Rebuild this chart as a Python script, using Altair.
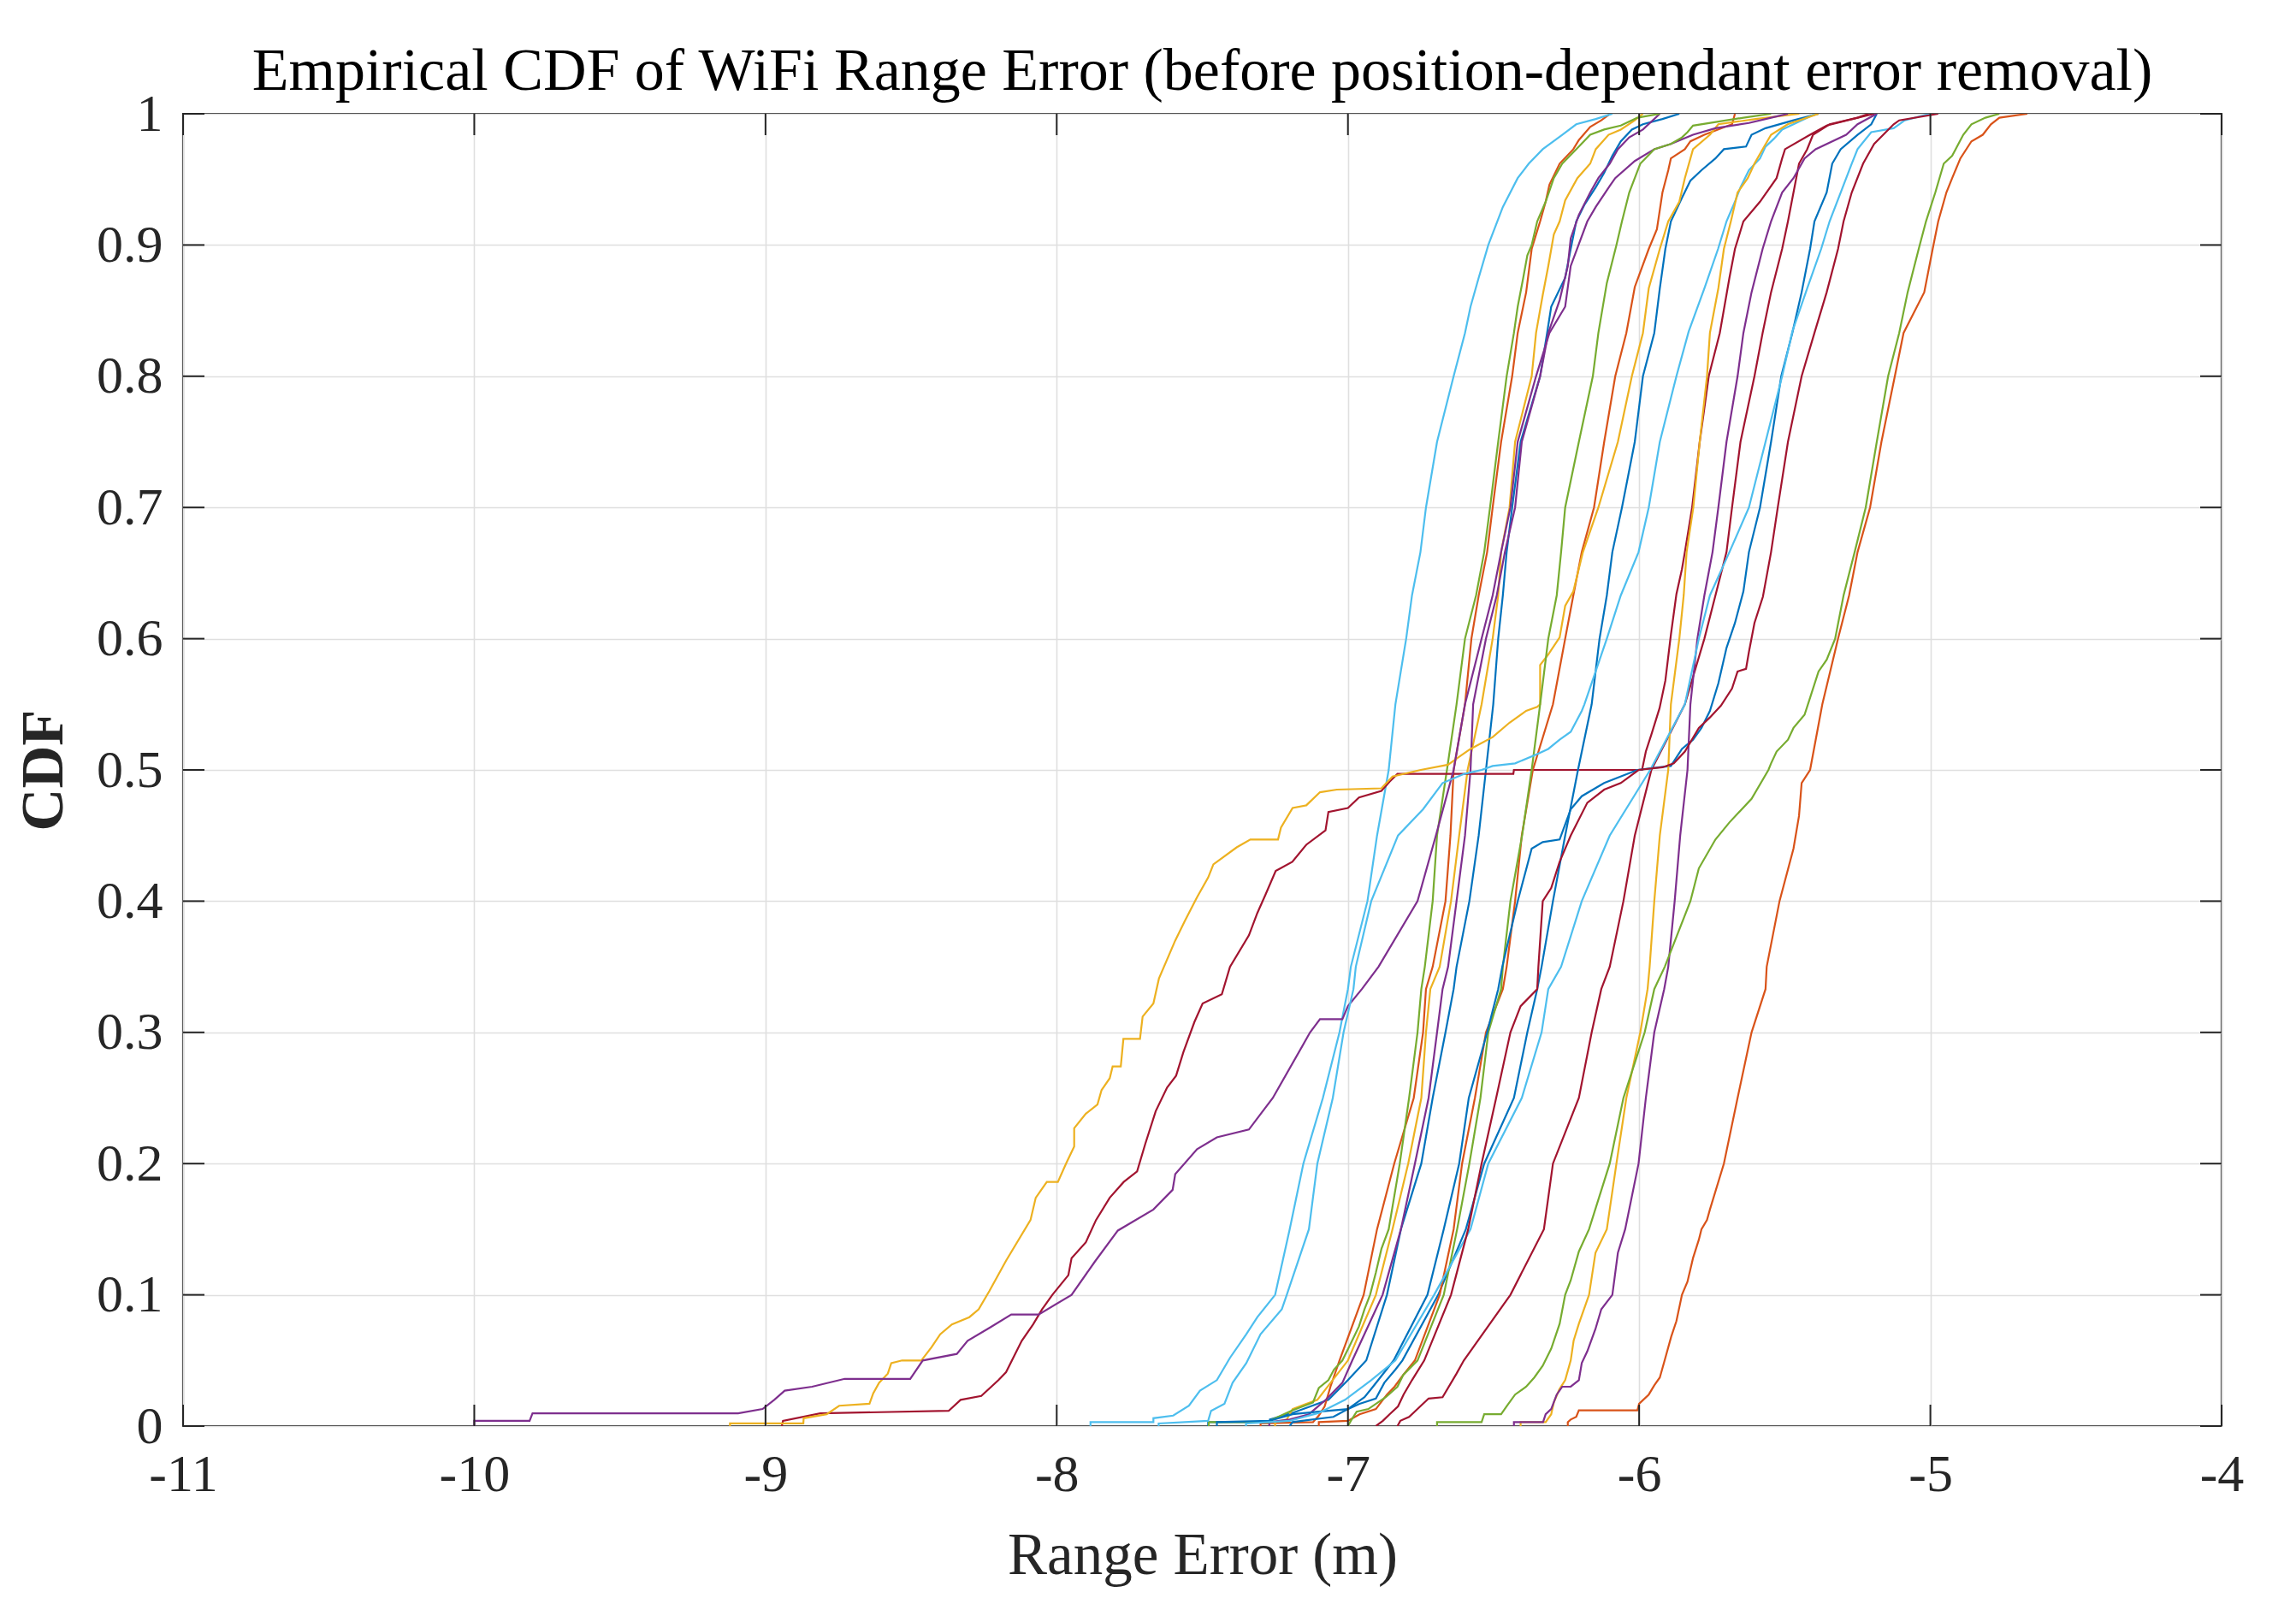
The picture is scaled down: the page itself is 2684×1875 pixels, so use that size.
import altair as alt
import pandas as pd

TITLE = "Empirical CDF of WiFi Range Error (before position-dependant error removal)"
X_TITLE = "Range Error (m)"
Y_TITLE = "CDF"
X_TICKS = [-11, -10, -9, -8, -7, -6, -5, -4]
Y_TICKS = [0, 0.1, 0.2, 0.3, 0.4, 0.5, 0.6, 0.7, 0.8, 0.9, 1.0]

BLUE, ORANGE, YELLOW, PURPLE, GREEN, LBLUE, RED = (
    "#0072BD", "#D95319", "#EDB120", "#7E2F8E", "#77AC30", "#4DBEEE", "#A2142F")

# (range error, cumulative fraction) points
B1 = [(-7.48,0),(-7.48,0.003),(-7.268,0.003),(-7.268,0.005),(-7.191,0.01),(-7.067,0.02),(-7.0,0.035),(-6.937,0.05),(-6.866,0.1),(-6.818,0.15),(-6.748,0.2),(-6.709,0.25),(-6.665,0.3),(-6.637,0.333),(-6.627,0.35),(-6.583,0.4),(-6.551,0.45),(-6.526,0.5),(-6.501,0.55),(-6.484,0.6),(-6.468,0.633),(-6.455,0.666),(-6.436,0.7),(-6.407,0.75),(-6.34,0.8),(-6.316,0.833),(-6.302,0.853),(-6.254,0.875),(-6.235,0.897),(-6.216,0.918),(-6.187,0.931),(-6.149,0.944),(-6.12,0.955),(-6.092,0.968),(-6.063,0.979),(-6.025,0.988),(-5.987,0.992),(-5.92,0.996),(-5.862,1.0)]
O1 = [(-7.3,0),(-7.3,0.002),(-7.12,0.003),(-7.1,0.008),(-7.08,0.015),(-7.06,0.03),(-7.029,0.05),(-6.946,0.1),(-6.9,0.15),(-6.841,0.2),(-6.774,0.25),(-6.742,0.3),(-6.732,0.333),(-6.709,0.35),(-6.665,0.4),(-6.648,0.45),(-6.637,0.5),(-6.598,0.55),(-6.576,0.6),(-6.551,0.633),(-6.522,0.666),(-6.503,0.7),(-6.474,0.75),(-6.436,0.8),(-6.417,0.833),(-6.388,0.864),(-6.369,0.897),(-6.34,0.918),(-6.321,0.933),(-6.308,0.946),(-6.273,0.962),(-6.226,0.973),(-6.207,0.98),(-6.168,0.99),(-6.13,0.995),(-6.1,1.0)]
Y1 = [(-7.25,0),(-7.25,0.003),(-7.21,0.005),(-7.19,0.013),(-7.105,0.02),(-7.0,0.05),(-6.904,0.1),(-6.847,0.15),(-6.793,0.2),(-6.748,0.25),(-6.732,0.3),(-6.717,0.333),(-6.685,0.35),(-6.646,0.4),(-6.618,0.45),(-6.589,0.5),(-6.541,0.55),(-6.503,0.6),(-6.484,0.633),(-6.474,0.666),(-6.445,0.7),(-6.426,0.75),(-6.369,0.8),(-6.354,0.833),(-6.331,0.862),(-6.312,0.884),(-6.293,0.908),(-6.273,0.918),(-6.254,0.934),(-6.212,0.951),(-6.168,0.962),(-6.149,0.973),(-6.105,0.984),(-6.063,0.988),(-6.015,0.995),(-5.987,1.0)]
P1 = [(-7.27,0),(-7.27,0.003),(-7.2,0.005),(-7.134,0.009),(-7.076,0.02),(-7.019,0.033),(-6.985,0.05),(-6.881,0.1),(-6.818,0.15),(-6.77,0.2),(-6.723,0.25),(-6.694,0.3),(-6.675,0.333),(-6.656,0.35),(-6.627,0.4),(-6.598,0.45),(-6.579,0.5),(-6.57,0.55),(-6.526,0.6),(-6.489,0.633),(-6.461,0.666),(-6.426,0.7),(-6.403,0.75),(-6.34,0.8),(-6.312,0.833),(-6.273,0.858),(-6.245,0.884),(-6.235,0.905),(-6.207,0.923),(-6.168,0.94),(-6.14,0.951),(-6.101,0.962),(-6.073,0.973),(-6.034,0.982),(-5.987,0.988),(-5.929,1.0)]
G1 = [(-7.478,0),(-7.478,0.003),(-7.268,0.003),(-7.26,0.005),(-7.19,0.012),(-7.12,0.018),(-7.1,0.029),(-7.067,0.035),(-7.048,0.043),(-7.019,0.05),(-6.99,0.063),(-6.962,0.076),(-6.943,0.089),(-6.924,0.1),(-6.904,0.117),(-6.885,0.135),(-6.86,0.15),(-6.822,0.2),(-6.79,0.25),(-6.761,0.3),(-6.748,0.333),(-6.736,0.35),(-6.709,0.4),(-6.694,0.45),(-6.66,0.5),(-6.627,0.55),(-6.598,0.6),(-6.56,0.633),(-6.532,0.666),(-6.512,0.7),(-6.484,0.75),(-6.455,0.8),(-6.43,0.833),(-6.417,0.853),(-6.398,0.875),(-6.384,0.892),(-6.369,0.9),(-6.35,0.918),(-6.321,0.933),(-6.293,0.951),(-6.264,0.962),(-6.216,0.973),(-6.168,0.984),(-6.12,0.988),(-6.063,0.991),(-6.006,0.997),(-5.929,1.0)]
LB1 = [(-7.884,0),(-7.884,0.003),(-7.668,0.003),(-7.668,0.006),(-7.6,0.008),(-7.546,0.0155),(-7.508,0.027),(-7.45,0.035),(-7.405,0.052),(-7.349,0.07),(-7.311,0.083),(-7.25,0.1),(-7.2,0.15),(-7.153,0.2),(-7.086,0.25),(-7.029,0.3),(-7.0,0.333),(-6.99,0.35),(-6.933,0.4),(-6.9,0.45),(-6.86,0.5),(-6.837,0.55),(-6.8,0.6),(-6.78,0.633),(-6.751,0.666),(-6.732,0.7),(-6.694,0.75),(-6.637,0.8),(-6.598,0.833),(-6.579,0.853),(-6.551,0.875),(-6.518,0.9),(-6.468,0.929),(-6.417,0.951),(-6.379,0.962),(-6.331,0.973),(-6.264,0.984),(-6.216,0.992),(-6.149,0.996),(-6.092,1.0)]
R1 = [(-8.944,0),(-8.94,0.004),(-8.812,0.0097),(-8.371,0.0116),(-8.33,0.02),(-8.259,0.023),(-8.2,0.035),(-8.174,0.041),(-8.12,0.065),(-8.081,0.0775),(-8.05,0.089),(-8.015,0.1),(-7.96,0.115),(-7.949,0.128),(-7.9,0.14),(-7.865,0.157),(-7.818,0.174),(-7.77,0.186),(-7.724,0.194),(-7.696,0.215),(-7.66,0.24),(-7.621,0.258),(-7.59,0.267),(-7.565,0.285),(-7.527,0.308),(-7.499,0.322),(-7.433,0.329),(-7.405,0.35),(-7.34,0.374),(-7.311,0.391),(-7.283,0.405),(-7.248,0.423),(-7.191,0.43),(-7.143,0.443),(-7.077,0.454),(-7.067,0.468),(-7.0,0.471),(-6.962,0.479),(-6.885,0.484),(-6.857,0.491),(-6.83,0.497),(-6.432,0.497),(-6.43,0.5),(-5.99,0.5),(-5.977,0.514),(-5.958,0.527),(-5.93,0.547),(-5.91,0.568),(-5.891,0.603),(-5.872,0.634),(-5.853,0.653),(-5.843,0.666),(-5.818,0.7),(-5.792,0.75),(-5.761,0.8),(-5.723,0.833),(-5.69,0.875),(-5.671,0.897),(-5.642,0.918),(-5.585,0.933),(-5.528,0.951),(-5.509,0.966),(-5.499,0.973),(-5.413,0.984),(-5.356,0.991),(-5.25,0.997),(-5.193,1.0)]
B2 = [(-7.45,0),(-7.45,0.003),(-7.27,0.004),(-7.19,0.009),(-7.1,0.011),(-7.0,0.013),(-6.96,0.017),(-6.904,0.021),(-6.875,0.033),(-6.837,0.043),(-6.813,0.05),(-6.69,0.1),(-6.595,0.15),(-6.532,0.2),(-6.43,0.25),(-6.384,0.3),(-6.35,0.333),(-6.335,0.35),(-6.296,0.4),(-6.254,0.45),(-6.21,0.5),(-6.163,0.55),(-6.136,0.6),(-6.111,0.633),(-6.092,0.666),(-6.059,0.7),(-6.015,0.75),(-5.987,0.8),(-5.948,0.833),(-5.929,0.867),(-5.91,0.897),(-5.891,0.918),(-5.853,0.936),(-5.824,0.949),(-5.786,0.957),(-5.738,0.966),(-5.709,0.973),(-5.633,0.975),(-5.614,0.984),(-5.566,0.989),(-5.47,0.995),(-5.384,1.0)]
O2 = [(-7.1,0),(-7.1,0.003),(-7.0,0.004),(-6.96,0.009),(-6.904,0.013),(-6.866,0.024),(-6.84,0.03),(-6.81,0.039),(-6.77,0.05),(-6.685,0.1),(-6.637,0.15),(-6.608,0.2),(-6.564,0.25),(-6.526,0.3),(-6.468,0.333),(-6.455,0.35),(-6.426,0.4),(-6.403,0.45),(-6.365,0.5),(-6.296,0.55),(-6.254,0.6),(-6.226,0.633),(-6.197,0.666),(-6.155,0.7),(-6.12,0.75),(-6.082,0.8),(-6.044,0.833),(-6.015,0.868),(-5.967,0.897),(-5.939,0.912),(-5.92,0.94),(-5.9,0.957),(-5.891,0.966),(-5.843,0.973),(-5.824,0.979),(-5.776,0.984),(-5.681,0.992),(-5.671,1.0)]
Y2 = [(-9.122,0),(-9.122,0.002),(-8.87,0.002),(-8.869,0.006),(-8.79,0.009),(-8.747,0.0155),(-8.643,0.017),(-8.63,0.025),(-8.61,0.033),(-8.58,0.04),(-8.568,0.048),(-8.531,0.05),(-8.465,0.05),(-8.43,0.06),(-8.4,0.07),(-8.36,0.0775),(-8.3,0.083),(-8.268,0.089),(-8.231,0.103),(-8.174,0.126),(-8.09,0.157),(-8.072,0.174),(-8.034,0.186),(-7.996,0.186),(-7.968,0.2),(-7.94,0.213),(-7.94,0.227),(-7.9,0.238),(-7.86,0.245),(-7.846,0.256),(-7.818,0.265),(-7.808,0.274),(-7.78,0.274),(-7.771,0.295),(-7.714,0.295),(-7.705,0.312),(-7.668,0.322),(-7.649,0.341),(-7.593,0.37),(-7.56,0.385),(-7.518,0.403),(-7.48,0.418),(-7.462,0.428),(-7.382,0.441),(-7.335,0.447),(-7.24,0.447),(-7.23,0.456),(-7.19,0.471),(-7.143,0.473),(-7.096,0.483),(-7.038,0.485),(-6.885,0.486),(-6.847,0.495),(-6.75,0.5),(-6.656,0.504),(-6.618,0.51),(-6.579,0.516),(-6.503,0.525),(-6.445,0.536),(-6.388,0.545),(-6.35,0.548),(-6.34,0.55),(-6.34,0.58),(-6.312,0.588),(-6.273,0.601),(-6.254,0.625),(-6.226,0.636),(-6.193,0.666),(-6.14,0.7),(-6.073,0.75),(-6.025,0.8),(-5.987,0.833),(-5.967,0.867),(-5.929,0.897),(-5.9,0.918),(-5.862,0.933),(-5.843,0.951),(-5.815,0.973),(-5.757,0.984),(-5.728,0.992),(-5.6,0.996),(-5.45,1.0)]
P2 = [(-10.0,0),(-10.0,0.004),(-9.81,0.004),(-9.8,0.0097),(-9.094,0.0097),(-9.01,0.013),(-8.97,0.02),(-8.934,0.027),(-8.84,0.03),(-8.728,0.036),(-8.503,0.036),(-8.46,0.05),(-8.343,0.055),(-8.306,0.065),(-8.23,0.075),(-8.156,0.085),(-8.062,0.085),(-7.949,0.1),(-7.87,0.125),(-7.79,0.149),(-7.668,0.165),(-7.602,0.18),(-7.593,0.192),(-7.518,0.211),(-7.45,0.22),(-7.34,0.226),(-7.258,0.25),(-7.13,0.3),(-7.096,0.31),(-7.019,0.31),(-7.0,0.32),(-6.952,0.333),(-6.895,0.35),(-6.761,0.4),(-6.698,0.45),(-6.637,0.5),(-6.598,0.55),(-6.541,0.6),(-6.503,0.633),(-6.474,0.666),(-6.442,0.7),(-6.417,0.75),(-6.354,0.8),(-6.308,0.833),(-6.254,0.853),(-6.235,0.884),(-6.178,0.918),(-6.149,0.929),(-6.101,0.945),(-6.082,0.951),(-6.015,0.964),(-5.948,0.973),(-5.891,0.977),(-5.815,0.984),(-5.738,0.989),(-5.623,0.993),(-5.547,0.997),(-5.489,1.0)]
G2 = [(-7.0,0),(-6.99,0.004),(-6.97,0.011),(-6.93,0.013),(-6.87,0.022),(-6.83,0.03),(-6.81,0.039),(-6.761,0.05),(-6.671,0.1),(-6.625,0.15),(-6.583,0.2),(-6.545,0.25),(-6.518,0.3),(-6.474,0.333),(-6.468,0.35),(-6.442,0.4),(-6.402,0.45),(-6.369,0.5),(-6.34,0.55),(-6.312,0.6),(-6.283,0.633),(-6.268,0.666),(-6.254,0.7),(-6.207,0.75),(-6.159,0.8),(-6.14,0.833),(-6.111,0.871),(-6.078,0.9),(-6.059,0.918),(-6.034,0.94),(-6.015,0.951),(-5.996,0.962),(-5.948,0.973),(-5.891,0.977),(-5.853,0.982),(-5.834,0.986),(-5.815,0.991),(-5.642,0.997),(-5.547,1.0)]
LB2 = [(-7.65,0),(-7.65,0.002),(-7.48,0.004),(-7.47,0.0116),(-7.424,0.017),(-7.396,0.033),(-7.349,0.048),(-7.3,0.07),(-7.227,0.089),(-7.21,0.1),(-7.134,0.15),(-7.105,0.2),(-7.052,0.25),(-7.015,0.3),(-6.981,0.333),(-6.973,0.35),(-6.92,0.4),(-6.828,0.45),(-6.742,0.47),(-6.675,0.49),(-6.6,0.497),(-6.541,0.5),(-6.503,0.503),(-6.426,0.505),(-6.35,0.512),(-6.312,0.516),(-6.273,0.523),(-6.235,0.529),(-6.197,0.545),(-6.188,0.55),(-6.111,0.6),(-6.063,0.633),(-6.002,0.666),(-5.967,0.7),(-5.929,0.75),(-5.872,0.8),(-5.83,0.834),(-5.776,0.867),(-5.729,0.897),(-5.7,0.918),(-5.671,0.933),(-5.652,0.944),(-5.623,0.957),(-5.585,0.966),(-5.566,0.975),(-5.537,0.981),(-5.509,0.988),(-5.47,0.992),(-5.394,1.0)]
R2 = [(-6.83,0),(-6.82,0.004),(-6.79,0.007),(-6.761,0.013),(-6.723,0.021),(-6.675,0.022),(-6.627,0.04),(-6.602,0.05),(-6.442,0.1),(-6.327,0.15),(-6.296,0.2),(-6.207,0.25),(-6.163,0.3),(-6.13,0.333),(-6.101,0.35),(-6.054,0.4),(-6.015,0.45),(-5.958,0.5),(-5.843,0.55),(-5.776,0.6),(-5.738,0.633),(-5.7,0.666),(-5.681,0.7),(-5.652,0.75),(-5.604,0.8),(-5.576,0.833),(-5.547,0.864),(-5.509,0.897),(-5.489,0.918),(-5.47,0.94),(-5.451,0.962),(-5.423,0.973),(-5.403,0.984),(-5.346,0.992),(-5.25,0.997),(-5.212,1.0)]
B3 = [(-7.2,0),(-7.19,0.003),(-7.05,0.007),(-7.0,0.013),(-6.943,0.022),(-6.914,0.03),(-6.843,0.05),(-6.727,0.1),(-6.671,0.15),(-6.618,0.2),(-6.585,0.25),(-6.522,0.3),(-6.484,0.333),(-6.47,0.35),(-6.417,0.4),(-6.369,0.44),(-6.331,0.445),(-6.273,0.447),(-6.235,0.47),(-6.197,0.48),(-6.12,0.49),(-6.006,0.5),(-5.93,0.502),(-5.891,0.503),(-5.853,0.516),(-5.815,0.523),(-5.786,0.532),(-5.757,0.545),(-5.728,0.566),(-5.7,0.593),(-5.671,0.612),(-5.642,0.636),(-5.623,0.666),(-5.585,0.7),(-5.547,0.75),(-5.512,0.8),(-5.474,0.833),(-5.442,0.864),(-5.413,0.897),(-5.398,0.918),(-5.356,0.94),(-5.337,0.962),(-5.308,0.973),(-5.25,0.984),(-5.203,0.992),(-5.184,1.0)]
O3 = [(-6.245,0),(-6.245,0.003),(-6.235,0.005),(-6.216,0.007),(-6.207,0.012),(-6.006,0.012),(-6.0,0.017),(-5.967,0.024),(-5.948,0.031),(-5.929,0.037),(-5.91,0.052),(-5.89,0.068),(-5.872,0.08),(-5.853,0.1),(-5.834,0.11),(-5.815,0.128),(-5.795,0.142),(-5.786,0.15),(-5.767,0.157),(-5.757,0.165),(-5.709,0.2),(-5.662,0.25),(-5.614,0.3),(-5.566,0.333),(-5.562,0.35),(-5.518,0.4),(-5.47,0.44),(-5.451,0.465),(-5.442,0.49),(-5.413,0.5),(-5.371,0.55),(-5.317,0.6),(-5.279,0.633),(-5.25,0.666),(-5.207,0.7),(-5.168,0.75),(-5.122,0.8),(-5.092,0.833),(-5.021,0.864),(-4.992,0.897),(-4.973,0.918),(-4.945,0.94),(-4.925,0.951),(-4.897,0.966),(-4.859,0.979),(-4.82,0.984),(-4.792,0.992),(-4.763,0.997),(-4.667,1.0)]
Y3 = [(-6.407,0),(-6.407,0.003),(-6.321,0.003),(-6.302,0.009),(-6.293,0.018),(-6.274,0.028),(-6.254,0.035),(-6.235,0.05),(-6.225,0.065),(-6.207,0.078),(-6.172,0.1),(-6.15,0.132),(-6.111,0.15),(-6.078,0.2),(-6.044,0.25),(-5.996,0.3),(-5.971,0.333),(-5.964,0.35),(-5.948,0.4),(-5.929,0.45),(-5.9,0.5),(-5.891,0.55),(-5.862,0.6),(-5.847,0.633),(-5.837,0.666),(-5.814,0.7),(-5.792,0.75),(-5.767,0.8),(-5.757,0.833),(-5.728,0.867),(-5.709,0.897),(-5.685,0.918),(-5.662,0.94),(-5.627,0.951),(-5.604,0.962),(-5.576,0.973),(-5.547,0.984),(-5.49,0.992),(-5.384,1.0)]
P3 = [(-6.43,0),(-6.43,0.003),(-6.33,0.003),(-6.321,0.009),(-6.302,0.013),(-6.283,0.024),(-6.264,0.03),(-6.235,0.03),(-6.207,0.035),(-6.197,0.048),(-6.178,0.057),(-6.15,0.074),(-6.13,0.089),(-6.092,0.1),(-6.073,0.132),(-6.048,0.15),(-6.002,0.2),(-5.977,0.25),(-5.948,0.3),(-5.914,0.333),(-5.9,0.35),(-5.878,0.4),(-5.859,0.45),(-5.834,0.5),(-5.824,0.55),(-5.8,0.6),(-5.776,0.633),(-5.748,0.666),(-5.728,0.7),(-5.7,0.75),(-5.662,0.8),(-5.642,0.833),(-5.614,0.864),(-5.576,0.897),(-5.547,0.918),(-5.509,0.94),(-5.47,0.951),(-5.432,0.966),(-5.394,0.973),(-5.289,0.984),(-5.25,0.992),(-5.184,1.0)]
G3 = [(-6.694,0),(-6.694,0.003),(-6.541,0.003),(-6.532,0.009),(-6.474,0.009),(-6.455,0.015),(-6.426,0.024),(-6.388,0.03),(-6.36,0.037),(-6.331,0.046),(-6.302,0.059),(-6.273,0.078),(-6.254,0.1),(-6.235,0.111),(-6.207,0.133),(-6.172,0.15),(-6.101,0.2),(-6.054,0.25),(-5.981,0.3),(-5.948,0.333),(-5.912,0.35),(-5.824,0.4),(-5.795,0.425),(-5.738,0.447),(-5.69,0.46),(-5.614,0.478),(-5.556,0.5),(-5.547,0.505),(-5.528,0.514),(-5.489,0.523),(-5.47,0.532),(-5.432,0.542),(-5.413,0.555),(-5.384,0.575),(-5.356,0.584),(-5.327,0.6),(-5.298,0.633),(-5.26,0.666),(-5.222,0.7),(-5.184,0.75),(-5.145,0.8),(-5.107,0.833),(-5.078,0.864),(-5.04,0.897),(-5.015,0.918),(-4.983,0.94),(-4.954,0.962),(-4.925,0.968),(-4.887,0.984),(-4.859,0.992),(-4.811,0.997),(-4.763,1.0)]
LB3 = [(-7.35,0),(-7.35,0.002),(-7.2,0.004),(-7.1,0.01),(-7.01,0.02),(-6.92,0.035),(-6.837,0.05),(-6.704,0.1),(-6.579,0.15),(-6.518,0.2),(-6.403,0.25),(-6.335,0.3),(-6.312,0.333),(-6.268,0.35),(-6.197,0.4),(-6.101,0.45),(-5.962,0.5),(-5.843,0.55),(-5.795,0.6),(-5.757,0.633),(-5.69,0.666),(-5.623,0.7),(-5.566,0.75),(-5.509,0.8),(-5.474,0.834),(-5.423,0.867),(-5.375,0.897),(-5.346,0.918),(-5.308,0.94),(-5.27,0.962),(-5.25,0.973),(-5.203,0.986),(-5.126,0.989),(-5.088,0.995),(-5.002,1.0)]
R3 = [(-6.904,0),(-6.88,0.004),(-6.857,0.009),(-6.828,0.015),(-6.809,0.024),(-6.78,0.035),(-6.738,0.05),(-6.646,0.1),(-6.587,0.15),(-6.541,0.2),(-6.491,0.25),(-6.442,0.3),(-6.407,0.32),(-6.35,0.333),(-6.346,0.35),(-6.331,0.4),(-6.302,0.41),(-6.273,0.43),(-6.235,0.45),(-6.178,0.475),(-6.12,0.485),(-6.063,0.49),(-6.002,0.5),(-5.92,0.502),(-5.881,0.505),(-5.843,0.514),(-5.795,0.532),(-5.757,0.54),(-5.719,0.549),(-5.681,0.562),(-5.662,0.575),(-5.633,0.577),(-5.623,0.59),(-5.604,0.612),(-5.575,0.632),(-5.547,0.666),(-5.524,0.7),(-5.489,0.75),(-5.442,0.8),(-5.398,0.833),(-5.356,0.864),(-5.317,0.897),(-5.298,0.918),(-5.27,0.94),(-5.231,0.962),(-5.193,0.977),(-5.126,0.992),(-5.107,0.995),(-4.973,1.0)]

SERIES = [
    ("s01", B1, BLUE), ("s02", O1, ORANGE), ("s03", Y1, YELLOW), ("s04", P1, PURPLE),
    ("s05", G1, GREEN), ("s06", LB1, LBLUE), ("s07", R1, RED),
    ("s08", B2, BLUE), ("s09", O2, ORANGE), ("s10", Y2, YELLOW), ("s11", P2, PURPLE),
    ("s12", G2, GREEN), ("s13", LB2, LBLUE), ("s14", R2, RED),
    ("s15", B3, BLUE), ("s16", O3, ORANGE), ("s17", Y3, YELLOW), ("s18", P3, PURPLE),
    ("s19", G3, GREEN), ("s20", LB3, LBLUE), ("s21", R3, RED),
]

rows = []
for name, pts, _c in SERIES:
    for i, (x, y) in enumerate(pts):
        rows.append({"series": name, "x": x, "y": y, "i": i})
df = pd.DataFrame(rows)

W, H = 2383, 1534
FONT = "Liberation Serif"
AX = "#262626"

xs = alt.Scale(domain=[-11, -4], nice=False, zero=False)
ys = alt.Scale(domain=[0, 1], nice=False, zero=False)

X_AXIS = alt.Axis(
    values=X_TICKS, labelExpr="toString(datum.value)", title=X_TITLE,
    grid=True, gridColor="#DFDFDF", gridWidth=1.6, ticks=False, domain=False,
    labelFlush=False, labelOverlap=False,
    labelFont=FONT, labelFontSize=62, labelColor=AX, labelPadding=26,
    titleFont=FONT, titleFontSize=69, titleFontWeight="normal", titleColor=AX,
    titlePadding=30)
Y_AXIS = alt.Axis(
    values=Y_TICKS, labelExpr="format(datum.value, '.1~f')", title=Y_TITLE,
    grid=True, gridColor="#DFDFDF", gridWidth=1.6, ticks=False, domain=False,
    labelFlush=False, labelOverlap=False,
    labelFont=FONT, labelFontSize=62, labelColor=AX, labelPadding=24,
    titleFont=FONT, titleFontSize=69, titleFontWeight="bold", titleColor=AX,
    titlePadding=26)

lines = alt.Chart(df).mark_line(strokeWidth=2.2, clip=True).encode(
    x=alt.X("x:Q", scale=xs, axis=X_AXIS),
    y=alt.Y("y:Q", scale=ys, axis=Y_AXIS),
    color=alt.Color("series:N", scale=alt.Scale(domain=[s[0] for s in SERIES],
                                                range=[s[2] for s in SERIES]), legend=None),
    detail="series:N",
    order=alt.Order("i:Q"),
)

xt = pd.DataFrame({"x": X_TICKS})
yt = pd.DataFrame({"y": Y_TICKS})
TL = 25
bot = alt.Chart(xt).mark_rule(color=AX, strokeWidth=2).encode(
    x=alt.X("x:Q", scale=xs, axis=X_AXIS), y=alt.value(H), y2=alt.value(H - TL))
top = alt.Chart(xt).mark_rule(color=AX, strokeWidth=2).encode(
    x=alt.X("x:Q", scale=xs, axis=X_AXIS), y=alt.value(0), y2=alt.value(TL))
left = alt.Chart(yt).mark_rule(color=AX, strokeWidth=2).encode(
    y=alt.Y("y:Q", scale=ys, axis=Y_AXIS), x=alt.value(0), x2=alt.value(TL))
right = alt.Chart(yt).mark_rule(color=AX, strokeWidth=2).encode(
    y=alt.Y("y:Q", scale=ys, axis=Y_AXIS), x=alt.value(W), x2=alt.value(W - TL))

chart = alt.layer(lines, bot, top, left, right).properties(
    width=W, height=H,
    title=alt.TitleParams(TITLE, font=FONT, fontSize=70, fontWeight="normal",
                          color="#000000", anchor="middle", offset=-18),
    autosize=alt.AutoSizeParams(type="none"),
    padding={"left": 206, "top": 125, "right": 79, "bottom": 200},
).configure_view(stroke=AX, strokeWidth=2.2)

chart.save("out.html", embed_options={"renderer": "svg", "actions": False})
